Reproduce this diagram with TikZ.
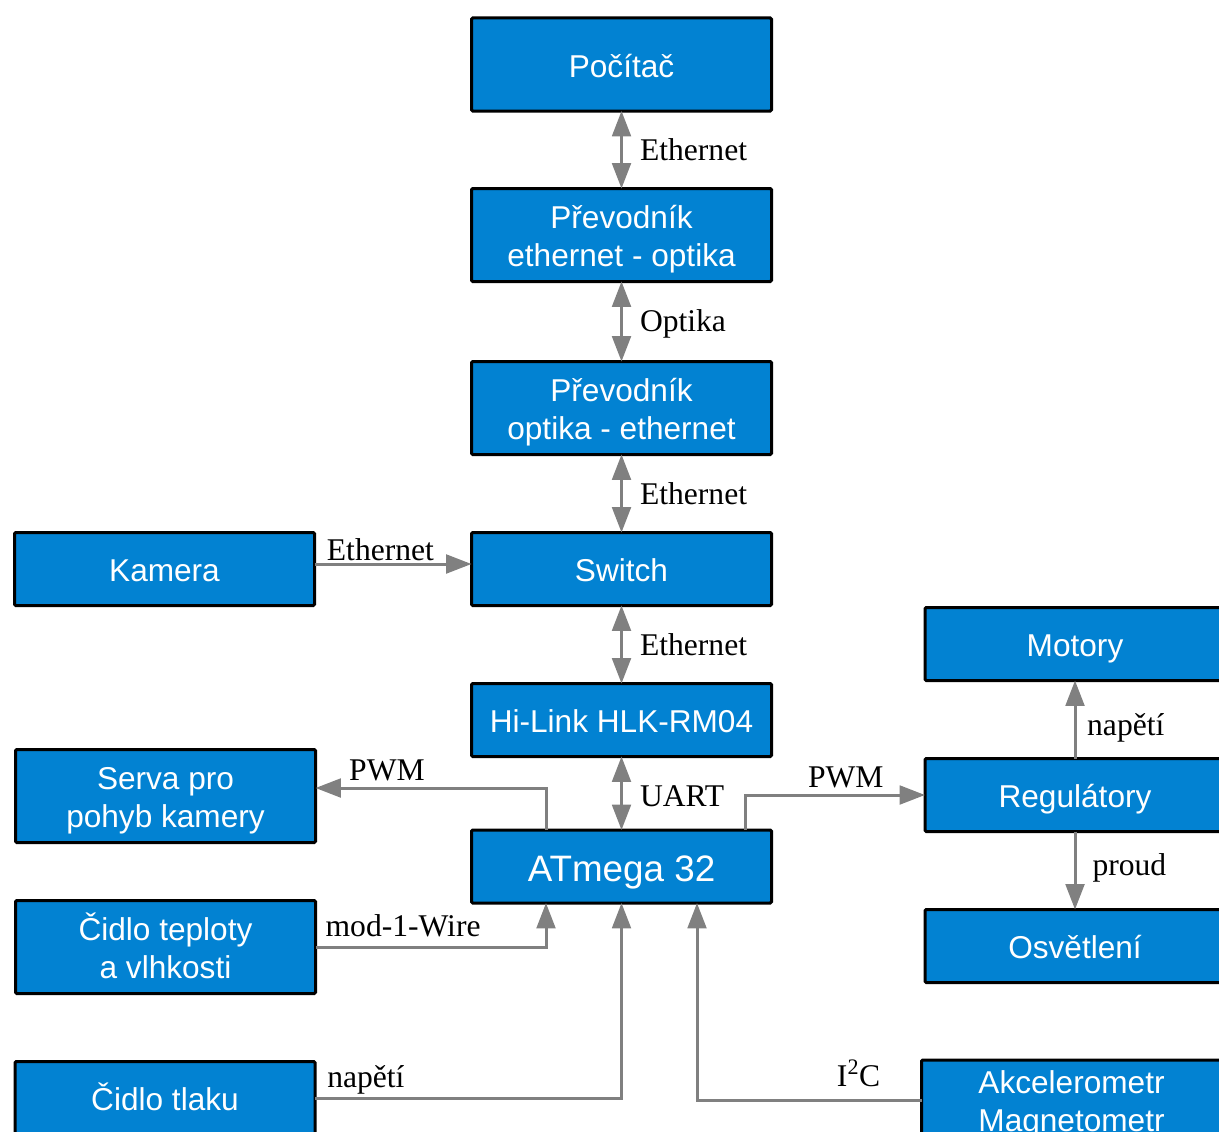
\documentclass[tikz,border=0pt]{standalone}
\usepackage{fontspec}
\setmainfont{Liberation Serif}
\setsansfont{Liberation Sans}
\usetikzlibrary{arrows.meta,calc,positioning}

\definecolor{blokmodra}{RGB}{2,130,210}
\definecolor{spojseda}{RGB}{128,128,128}

\newcommand{\vrch}{\rule{0pt}{1.06em}}
\newcommand{\spod}{\rule[-0.254em]{0pt}{0.254em}}

\tikzset{every picture/.style={line width=0.75pt}}
\tikzset{
  blok/.style={draw=black, line width=2.25pt, fill=blokmodra, text=white, rounded corners=1pt,
    font=\sffamily\fontsize{23.7}{28.5}\selectfont, align=center,
    minimum width=225pt, inner sep=0pt, outer sep=0pt},
  vysoky/.style={minimum height=69.75pt},
  nizky/.style={minimum height=54.75pt},
  hrot/.tip={Triangle[length=19pt,width=14pt]},
  spoj/.style={draw=spojseda, line width=2.25pt, -hrot},
  obousmer/.style={spoj, hrot-hrot},
  popis/.style={font=\fontsize{23.7}{28}\selectfont, text=black, inner sep=0pt},
}

\begin{document}
\begin{tikzpicture}[x=0.75pt,y=0.75pt,yscale=-1,xscale=1]
  %set diagram size 1219 x 1131
  \useasboundingbox (0,0) rectangle (1219,1131);
  \clip (0,0) rectangle (1219,1131);

  %Shape: Rectangle [stredni sloupec]
  \node[blok, vysoky] (pocitac) at (621.5,64.5) {\vrch Počítač\spod};
  \node[blok, vysoky] (prevod1) at (621.5,235) {\vrch Převodník\\ethernet - optika\spod};
  \node[blok, vysoky] (prevod2) at (621.5,408) {\vrch Převodník\\optika - ethernet\spod};
  \node[blok, nizky] (switch) at (621.5,569) {\vrch Switch\spod};
  \node[blok, nizky] (hilink) at (621.5,720) {\vrch Hi-Link HLK-RM04\spod};
  \node[blok, nizky, font=\sffamily\fontsize{27.6}{33}\selectfont] (atmega) at (621.5,866.5) {\vrch ATmega 32\spod};
  %Shape: Rectangle [levy sloupec]
  \node[blok, nizky] (kamera) at (164.5,569) {\vrch Kamera\spod};
  \node[blok, vysoky] (serva) at (165.5,796) {\vrch Serva pro\\pohyb kamery\spod};
  \node[blok, vysoky] (teplota) at (165.5,947) {\vrch Čidlo teploty\\a vlhkosti\spod};
  \node[blok, nizky] (tlak) at (165,1098) {\vrch Čidlo tlaku\spod};
  %Shape: Rectangle [pravy sloupec]
  \node[blok, nizky] (motory) at (1075,644) {\vrch Motory\spod};
  \node[blok, nizky] (regulatory) at (1075,795) {\vrch Regulátory\spod};
  \node[blok, nizky] (osvetleni) at (1075,946) {\vrch Osvětlení\spod};
  \node[blok, minimum height=60pt] (akcel) at (1071.5,1100) {\vrch Akcelerometr\\Magnetometr\spod};

  %Straight Lines [svisle spoje]
  \draw[obousmer] (pocitac) -- node[popis, right=12.75pt] (eth1) {Ethernet} (prevod1);
  \draw[obousmer] (prevod1) -- node[popis, right=12.75pt, yshift=-2pt] (opt) {Optika} (prevod2);
  \draw[obousmer] (prevod2) -- node[popis, right=12.75pt] (eth2) {Ethernet} (switch);
  \draw[obousmer] (switch) -- node[popis, right=12.75pt] (eth3) {Ethernet} (hilink);
  \draw[obousmer] (hilink) -- node[popis, right=12.75pt, yshift=-2pt] (uart) {UART} (atmega);
  %Straight Lines [kamera]
  \draw[spoj] ($(kamera.east)+(0,-5)$) -- node[popis, above=1pt, pos=0.42] (eth4) {Ethernet} ($(switch.west)+(0,-5)$);
  %Straight Lines [PWM]
  \draw[spoj] ($(atmega.north)+(-75.5,0)$) |- node[popis, above=4.5pt, pos=0.845] (pwm1) {PWM} ($(serva.east)+(0,-8)$);
  \draw[spoj] ($(atmega.north)+(123.5,0)$) |- node[popis, above=4pt, pos=0.78] (pwm2) {PWM} (regulatory.west);
  \draw[spoj] (regulatory) -- node[popis, right=8pt, yshift=-6pt] (nap1) {napětí} (motory);
  \draw[spoj] (regulatory) -- node[popis, right=12pt, yshift=2pt] (proud) {proud} (osvetleni);
  %Straight Lines [senzory]
  \draw[spoj] (teplota.east) -| node[popis, above=6.5pt, pos=0.19] (wire) {mod-1-Wire} ($(atmega.south)+(-75.5,0)$);
  \draw[spoj] (tlak.east) -| node[popis, above=2pt, pos=0.083] (nap2) {napětí} (atmega.south);
  \draw[spoj] (akcel.west) -| node[popis, above=8.5pt, pos=0.14] (iic) {I\textsuperscript{2}C} ($(atmega.south)+(75.5,0)$);

\end{tikzpicture}
\end{document}
